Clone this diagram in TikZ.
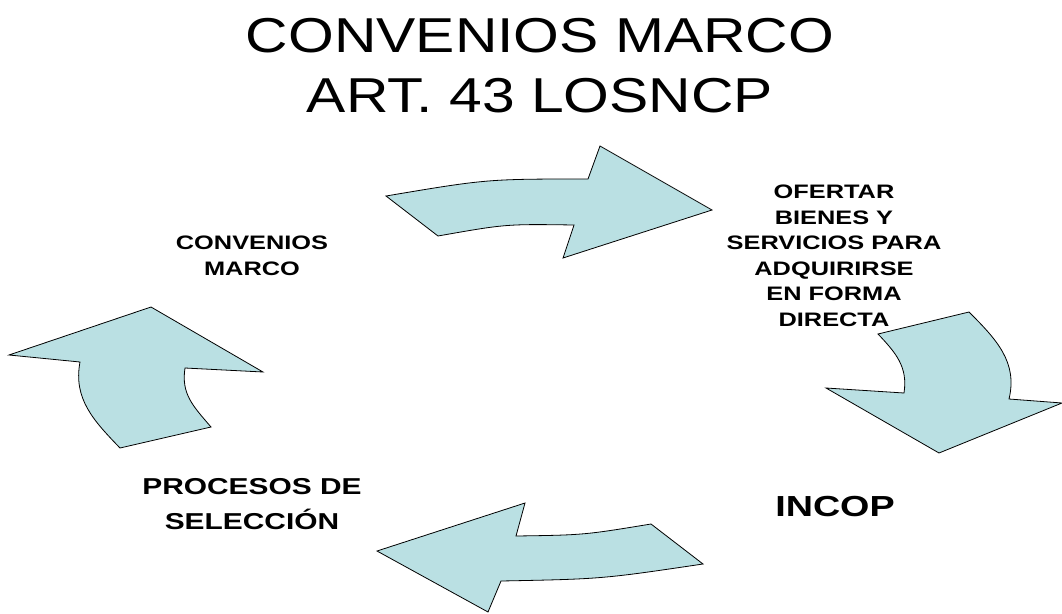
\documentclass[tikz,border=0pt]{standalone}
\usepackage{fontspec}
\setmainfont{Liberation Sans}
\newfontfamily\lblfont[FakeStretch=1.3]{Liberation Sans}
\newfontfamily\ttlfont[FakeStretch=1.2]{Liberation Sans}
\usepackage{tikz}
\definecolor{arrowfill}{RGB}{186,224,227}
\tikzset{%
  bigarrow/.style = {draw=black,fill=arrowfill,line width=0.8pt,
        line join=miter},
  ttl/.style = {align=center,inner sep=0pt,
        font=\ttlfont\fontsize{49}{60}\selectfont},
  lbl/.style = {align=center,inner sep=0pt,
        font=\lblfont\bfseries\fontsize{19.5}{25.5}\selectfont}
}

\begin{document}
\begin{tikzpicture}[x=1pt,y=-1pt]
  \useasboundingbox (0,0) rectangle (1062,613);

  \node[ttl] (title) at (540,66) {CONVENIOS MARCO\\ART. 43 LOSNCP};

  \node[lbl] (conv) at (252,256) {CONVENIOS\\MARCO};
  \node[lbl] (ofer) at (834,256) {OFERTAR\\BIENES Y\\SERVICIOS PARA\\ADQUIRIRSE\\EN FORMA\\DIRECTA};
  \node[lbl,font=\lblfont\bfseries\fontsize{29}{35}\selectfont] (incop) at (835,507) {INCOP};
  \node[lbl,font=\lblfont\bfseries\fontsize{23}{35}\selectfont] (proc) at (252,504) {PROCESOS DE\\SELECCI\'ON};

  \draw[bigarrow] (386,196) .. controls (487,179) .. (588,179) -- (600,146) -- (712,210)
        -- (563,258) -- (574,225) .. controls (506,224) .. (438,236) -- cycle;
  \draw[bigarrow] (878,334) -- (969,312) .. controls (996,339) and (1018,362) .. (1009,399) -- (1062,403)
        -- (939,453) -- (826,388) -- (904,393) .. controls (908,367) and (896,353) .. (878,334) -- cycle;
  \draw[bigarrow] (377,551) -- (525,503) -- (516,536) .. controls (584,535) .. (651,524)
        -- (703,564) .. controls (602,579) .. (501,581) -- (488,612) -- cycle;
  \draw[bigarrow] (9,355) -- (151,307) -- (263,372) -- (185,368) .. controls (181,394) and (193,406) .. (211,427)
        -- (120,448) .. controls (94,421) and (73,399) .. (80,362) -- cycle;
\end{tikzpicture}
\end{document}
